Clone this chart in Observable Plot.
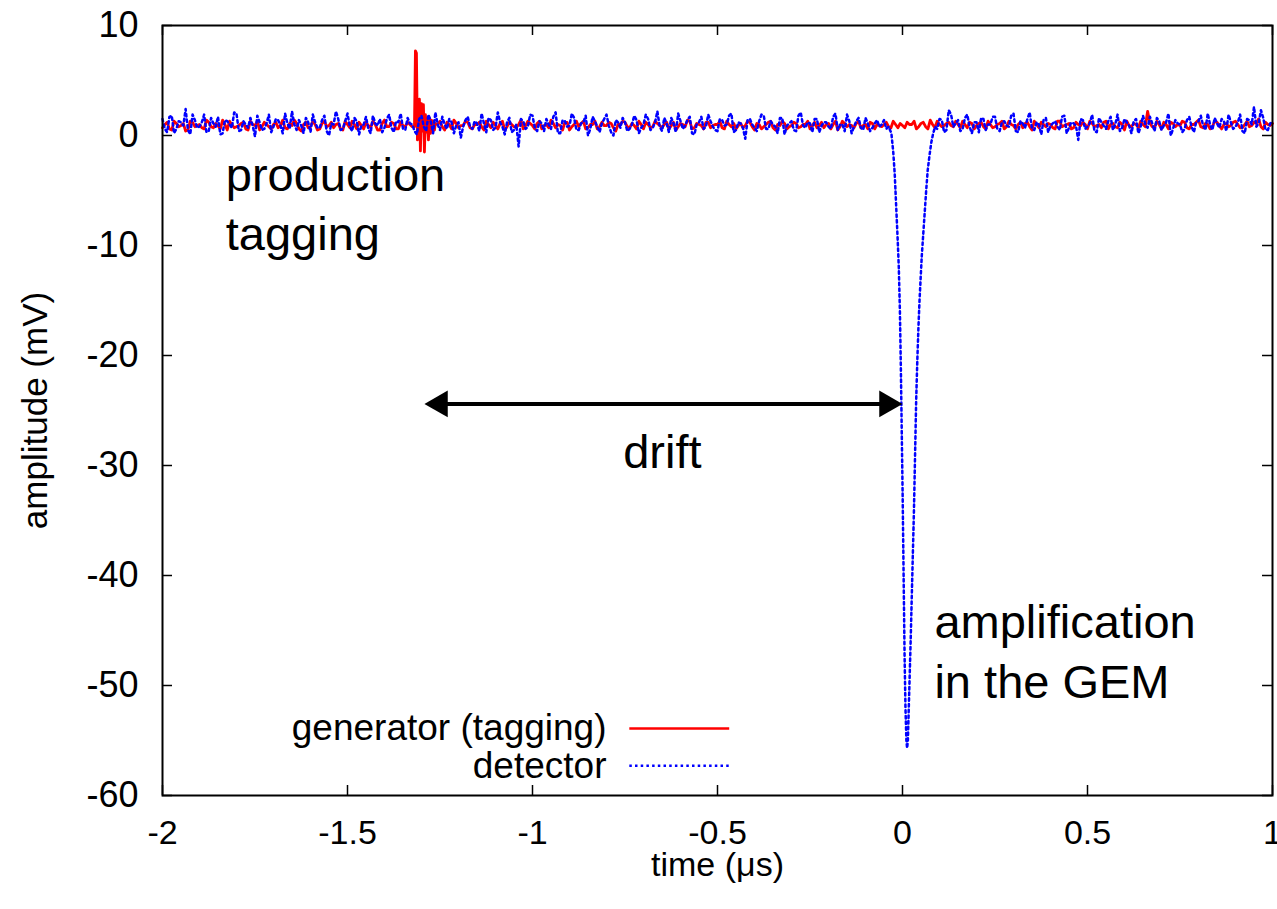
<!DOCTYPE html>
<html><head><meta charset="utf-8">
<script src="https://cdn.jsdelivr.net/npm/d3@7"></script>
<script src="https://cdn.jsdelivr.net/npm/@observablehq/plot@0.6"></script>
<style>
body{margin:0;background:#fff;overflow:hidden}
#chart svg{font-family:"Liberation Sans",Arial,Helvetica,sans-serif}
</style>
</head><body><div id="chart"></div>
<script>
// sampling of the baseline traces (µs): readings on the grid and half-way between
const tStart = -2, tStep = 0.0125;

// generator (tagging) baseline readings, mV (on grid)
const generatorBase = [
0.7,1.2,0.5,1.1,0.9,0.4,1.3,0.8,1.0,0.6,
1.2,0.7,0.9,1.4,0.5,1.0,0.8,1.1,0.6,1.3,
0.9,0.5,1.2,0.8,1.0,0.7,1.4,0.6,0.9,1.1,
0.4,1.2,0.8,1.0,0.6,1.3,0.9,0.7,1.1,0.5,
1.0,1.3,0.6,0.9,1.2,0.7,1.0,0.5,1.4,0.8,
1.1,0.6,0.9,1.2,0.8,0.9,1.0,0.8,1.1,0.7,
1.3,0.5,1.0,1.4,0.7,0.9,1.2,0.6,1.0,0.8,
1.3,0.7,0.9,1.1,0.5,1.2,0.8,1.0,0.6,1.3,
0.9,1.1,0.6,1.0,1.4,0.7,0.9,1.2,0.5,1.0,
0.8,1.3,0.7,1.0,0.6,1.2,0.9,1.1,0.4,1.0,
1.2,0.7,0.9,1.3,0.6,1.0,0.8,1.1,0.7,1.2,
0.9,0.5,1.1,0.8,1.3,0.7,1.0,0.6,1.2,0.9,
1.0,0.7,1.3,0.8,0.6,1.1,0.9,1.2,0.5,1.0,
0.8,1.2,0.7,1.0,1.3,0.6,0.9,1.1,0.8,1.0,
0.6,1.2,0.9,0.7,1.1,1.0,0.5,1.3,0.8,0.9,
1.1,0.7,1.0,1.2,0.6,0.9,1.0,0.8,1.3,0.7,
0.9,1.2,1.0,0.6,1.1,0.8,1.4,0.7,1.0,0.9,
1.2,0.8,1.0,1.3,0.7,1.1,0.9,1.2,0.6,1.0,
0.8,1.1,0.6,1.3,0.9,1.0,0.7,1.2,0.5,1.0,
1.2,0.8,1.0,0.6,1.3,0.9,1.1,0.7,1.0,1.2,
0.6,1.1,0.9,0.7,1.3,1.0,0.8,1.2,0.5,0.9,
1.1,0.7,1.0,2.2,0.8,1.3,0.6,1.0,1.2,0.8,
0.9,1.2,0.6,1.0,1.4,0.7,1.0,0.8,1.2,0.6,
1.1,0.9,1.3,0.7,1.0,0.8,1.2,1.5,0.6,1.0,
1.1];
// generator readings half-way between grid points
const generatorMid = [
1.0,0.6,1.3,0.8,1.1,0.5,1.2,0.9,0.7,1.4,
0.8,1.1,0.6,1.0,1.3,0.7,0.9,1.2,0.5,1.0,
1.3,0.8,1.0,0.6,1.2,0.9,0.7,1.1,1.4,0.6,
1.0,0.7,1.3,0.5,1.1,0.8,1.2,1.0,0.6,1.3,
0.7,1.0,1.2,0.6,0.9,1.3,0.5,1.1,0.8,1.2,
0.6,1.2,0.8,1.0,0.9,1.0,0.9,1.0,0.8,1.0,
0.8,1.2,0.6,1.1,0.9,1.3,0.7,1.0,1.2,0.5,
1.0,1.2,0.6,1.3,0.8,1.0,0.7,1.4,0.9,1.1,
0.6,1.3,0.9,0.7,1.1,1.0,0.5,1.2,0.8,1.3,
1.1,0.6,1.0,1.3,0.8,0.9,1.2,0.7,1.0,1.3,
0.8,1.1,0.6,1.0,1.2,0.7,1.3,0.9,1.0,0.6,
1.2,0.8,1.0,1.4,0.6,1.1,0.9,1.2,0.7,1.0,
1.3,0.6,1.0,1.1,0.9,0.7,1.3,0.8,1.1,0.6,
1.0,1.3,0.5,0.9,1.1,0.8,1.2,0.7,1.0,1.3,
0.9,0.7,1.2,1.0,0.6,1.3,0.8,1.1,1.0,0.7,
1.3,0.9,0.6,1.1,1.0,0.8,1.2,0.7,1.0,1.1,
0.7,1.0,1.3,0.8,1.2,0.6,1.0,1.3,0.8,1.1,
0.9,1.3,0.7,1.0,1.2,0.6,1.1,0.8,1.3,0.7,
1.0,1.3,0.8,1.0,0.6,1.2,1.1,0.8,1.3,0.7,
1.0,1.1,0.7,1.3,0.8,1.0,0.6,1.2,0.9,1.0,
1.3,0.8,1.0,1.2,0.6,1.1,0.7,1.0,1.3,0.8,
1.0,1.3,0.8,1.1,0.7,1.0,1.2,0.6,1.1,1.0,
1.3,0.7,1.0,1.2,0.8,1.1,0.6,1.3,0.9,1.0,
0.8,1.2,1.0,0.7,1.3,0.9,1.1,0.8,1.2,0.9];

// generator ringing at the production tag
const ringTimes  = [-1.319,-1.3164,-1.3137,-1.311,-1.3083,-1.3056,-1.3029,-1.3002,-1.2975,-1.2948,-1.2921,-1.2894,-1.2867,-1.284,-1.2813,-1.2786,-1.2759,-1.2732,-1.2705,-1.2678,-1.265,-1.2625];
const ringValues = [0.8,7.7,7.5,-0.4,0.2,3.3,-1.4,2.9,0.4,2.8,-1.5,1.9,0.3,1.5,-0.4,1.6,0.2,1.4,0.4,1.3,0.5,1.1];

// detector baseline readings, mV (on grid)
const detectorBase = [
1.5,0.3,1.8,0.6,1.2,2.4,0.1,1.4,0.8,1.9,
0.4,1.1,1.7,0.2,1.3,0.7,2.0,0.5,1.0,1.6,
-0.1,1.2,0.6,1.9,0.8,1.4,0.2,1.1,2.2,0.5,
0.9,1.6,0.3,1.2,0.7,1.8,0.0,1.0,1.5,0.6,
2.0,0.4,1.3,0.9,1.7,0.2,1.1,1.5,0.7,1.9,
0.3,1.2,0.6,1.6,1.0,0.1,1.8,0.4,1.3,2.1,
0.5,1.0,1.5,0.2,1.2,0.8,1.7,0.6,1.1,2.0,
0.3,1.4,0.7,1.2,0.1,1.6,0.5,-1.0,1.3,0.8,
1.8,0.4,1.1,1.5,0.6,2.1,0.2,1.3,0.9,1.6,
0.5,1.2,0.0,1.7,0.8,1.1,1.9,0.3,1.4,0.7,
1.2,0.6,1.8,0.2,1.0,1.5,0.7,2.2,0.4,1.1,
1.6,0.3,1.3,0.9,1.7,0.1,1.2,0.6,1.9,0.8,
0.4,1.4,1.0,2.0,0.5,1.1,-0.3,1.5,0.7,1.3,
1.8,0.6,1.0,0.2,1.6,0.9,1.3,0.4,2.1,0.7,
1.1,1.5,0.3,1.2,0.8,1.7,0.5,1.0,1.9,0.2,
1.3,0.7,1.6,0.4,1.1,0.8,1.4,1.0,0.9,1.1,
0.8,1.0,0.9,1.2,0.7,1.1,0.9,1.0,1.5,0.3,
2.3,0.8,1.4,0.6,1.9,0.2,1.2,1.6,0.5,1.0,
1.7,0.4,1.3,0.8,2.0,0.3,1.1,1.5,0.6,1.2,
0.1,1.6,0.9,1.3,0.5,1.8,0.7,1.1,-0.4,1.4,
0.8,1.9,0.3,1.2,0.6,1.7,1.0,0.4,1.5,0.9,
1.3,0.2,1.8,0.7,1.1,1.6,0.5,1.2,0.0,1.4,
1.0,0.6,1.7,0.3,1.3,0.9,2.0,0.5,1.1,1.5,
0.4,1.2,0.8,1.9,0.2,1.4,2.6,1.1,1.6,0.5,
1.2];
// detector readings half-way between grid points
const detectorMid = [
0.6,1.7,0.2,1.3,0.9,0.5,1.9,0.7,1.2,0.3,
1.6,0.8,0.1,1.4,1.0,2.1,0.4,1.3,0.7,0.9,
1.8,0.5,1.1,0.3,1.5,0.9,2.0,0.6,1.0,1.4,
0.2,1.2,1.9,0.7,1.4,0.4,1.1,2.2,0.5,1.3,
0.8,1.6,0.1,1.0,0.6,1.8,0.9,0.3,1.5,0.7,
1.3,2.0,0.5,1.1,0.4,1.5,0.8,1.9,0.2,1.0,
1.7,0.6,1.2,0.9,-0.2,1.4,0.8,1.3,0.4,1.1,
1.6,0.5,2.1,0.8,1.2,0.3,1.0,1.5,0.6,1.9,
0.7,1.3,0.4,1.0,1.7,0.2,1.4,0.8,2.0,0.5,
1.1,1.8,0.6,1.3,0.3,1.5,0.9,0.0,1.2,1.6,
0.4,1.0,1.4,0.7,1.9,0.5,1.2,0.8,1.6,0.3,
1.1,2.0,0.6,1.4,0.2,1.0,1.7,0.8,1.3,0.5,
1.5,0.9,1.8,0.3,1.2,0.7,1.4,1.0,0.4,1.9,
0.6,1.3,0.8,1.6,0.1,1.1,0.5,1.8,0.9,1.2,
0.3,1.5,0.9,1.2,0.6,2.0,1.0,0.4,1.3,0.8,
1.6,0.5,1.1,0.7,1.4,1.0,0.6,1.2,0.9,1.0,
1.0,0.9,1.1,0.8,1.0,0.9,1.0,0.6,1.4,0.5,
1.9,1.1,0.4,1.6,0.8,1.2,0.3,1.5,1.0,1.7,
0.6,1.2,0.9,1.8,0.4,1.3,0.7,2.1,0.5,1.0,
1.4,0.3,1.1,0.8,1.7,0.2,1.2,0.9,1.5,0.6,
1.1,0.4,1.6,0.9,1.3,0.5,1.9,0.7,1.2,0.2,
1.5,0.8,1.0,1.7,0.4,1.3,0.9,2.0,0.6,1.1,
0.3,1.4,0.8,1.2,1.8,0.5,1.0,1.6,0.7,1.3,
1.9,0.6,1.2,0.4,1.5,1.0,0.8,2.3,0.5,1.1];

// detector pulse (amplification in the GEM)
const pulseTimes  = [-0.0375,-0.03,-0.025,-0.021,-0.017,-0.013,-0.010,-0.007,-0.0045,-0.002,0.0005,0.003,0.0055,0.008,0.0105,0.0125,0.0145,0.017,0.0195,0.022,0.025,0.028,0.031,0.034,0.037,0.040,0.043,0.046,0.049,0.052,0.056,0.060,0.064,0.068,0.073,0.078,0.083,0.088];
const pulseValues = [0.8,0.2,-1.5,-3.5,-6.5,-9.5,-12,-16,-21,-27,-33,-40,-47,-52,-55,-55.7,-55,-52,-49,-46,-42,-38,-34,-29,-24,-20.5,-17.5,-15,-13,-11,-9,-7,-5,-3.2,-1.8,-0.6,0.2,0.8];

const xTicks = [-2,-1.5,-1,-0.5,0,0.5,1];
const yTicks = [10,0,-10,-20,-30,-40,-50,-60];

const annotationTexts = ["production\ntagging","drift","amplification\nin the GEM"];
const annotationX = [-1.829,-0.755,0.0863];
const annotationY = [-1.2,-26.4,-41.9];

const driftStart = -1.292, driftEnd = 0.0, driftLevel = -24.4;

const legendLabels = ["generator (tagging)","detector"];
const legendColors = ["#ff0000","#0000ff"];
const legendTextX = -0.80, legendLineX1 = -0.737, legendLineX2 = -0.467;
const legendY = [-53.9,-57.3];

// ---- assemble tables ----
const gridT = i => tStart + i * tStep;
const midT = i => tStart + (i + 0.5) * tStep;
const generator = generatorBase.map((v, i) => ({t: gridT(i), v}))
  .concat(generatorMid.map((v, i) => ({t: midT(i), v})))
  .filter(d => !(d.t > -1.322 && d.t < -1.26))
  .concat(ringTimes.map((t, i) => ({t, v: ringValues[i]})))
  .sort((a, b) => a.t - b.t);
const detector = detectorBase.map((v, i) => ({t: gridT(i), v}))
  .concat(detectorMid.map((v, i) => ({t: midT(i), v})))
  .filter(d => !(d.t > -0.04 && d.t < 0.09))
  .concat(pulseTimes.map((t, i) => ({t, v: pulseValues[i]})))
  .sort((a, b) => a.t - b.t);
const annotations = annotationTexts.map((text, i) => ({text, x: annotationX[i], y: annotationY[i]}));
const drift = [{x1: driftStart, x2: driftEnd, y: driftLevel}];
const legend = legendLabels.map((label, i) => ({label, color: legendColors[i], xt: legendTextX, x1: legendLineX1, x2: legendLineX2, y: legendY[i]}));

const fmt = d => String(d);
const dotted = "2.5,3.2";

const chart = Plot.plot({
  width: 1277, height: 909,
  marginLeft: 162, marginRight: 5, marginTop: 25, marginBottom: 114,
  x: {domain: [-2, 1]},
  y: {domain: [-60, 10]},
  style: {background: "white", color: "black", fontFamily: '"Liberation Sans", Arial, Helvetica, sans-serif'},
  marks: [
    Plot.line(generator, {x: "t", y: "v", stroke: "#ff0000", strokeWidth: 2.8}),
    Plot.line(detector, {x: "t", y: "v", stroke: "#0000ff", strokeWidth: 2.5, strokeDasharray: dotted}),
    Plot.ruleY(drift, {y: "y", x1: "x1", x2: "x2", strokeWidth: 4, insetLeft: 14, insetRight: 14}),
    Plot.dot(drift, {x: "x1", y: "y", symbol: "triangle", r: 10, fill: "black", stroke: null, rotate: -90, dx: 15.5}),
    Plot.dot(drift, {x: "x2", y: "y", symbol: "triangle", r: 10, fill: "black", stroke: null, rotate: 90, dx: -15.5}),
    Plot.text(annotations, {x: "x", y: "y", text: "text", textAnchor: "start", lineAnchor: "top", fontSize: 47, lineHeight: 1.26, fill: "black"}),
    Plot.text(legend, {x: "xt", y: "y", text: "label", textAnchor: "end", lineAnchor: "middle", fontSize: 37, fill: "black"}),
    Plot.ruleY(legend.slice(0, 1), {y: "y", x1: "x1", x2: "x2", stroke: "color", strokeWidth: 2.5}),
    Plot.ruleY(legend.slice(1), {y: "y", x1: "x1", x2: "x2", stroke: "color", strokeWidth: 2.5, strokeDasharray: dotted}),
    Plot.frame({stroke: "black", strokeWidth: 2}),
    Plot.tickX(xTicks, {x: d => d, insetTop: 760, strokeWidth: 1.5}),
    Plot.tickX(xTicks, {x: d => d, insetBottom: 760, strokeWidth: 1.5}),
    Plot.tickY(yTicks, {y: d => d, insetRight: 1100, strokeWidth: 1.5}),
    Plot.tickY(yTicks, {y: d => d, insetLeft: 1100, strokeWidth: 1.5}),
    Plot.axisX({ticks: xTicks, tickSize: 0, tickPadding: 24, fontSize: 34, tickFormat: fmt, label: null}),
    Plot.axisY({ticks: yTicks, tickSize: 0, tickPadding: 24, fontSize: 36, tickFormat: fmt, label: null}),
    Plot.text(["amplitude (mV)"], {text: d => d, frameAnchor: "left", dx: -127, rotate: -90, textAnchor: "middle", lineAnchor: "middle", fontSize: 35, fill: "black"}),
    Plot.text(["time (μs)"], {text: d => d, frameAnchor: "bottom", dy: 70, textAnchor: "middle", lineAnchor: "middle", fontSize: 34, fill: "black"})
  ]
});
document.getElementById("chart").appendChild(chart);
</script>
</body></html>
